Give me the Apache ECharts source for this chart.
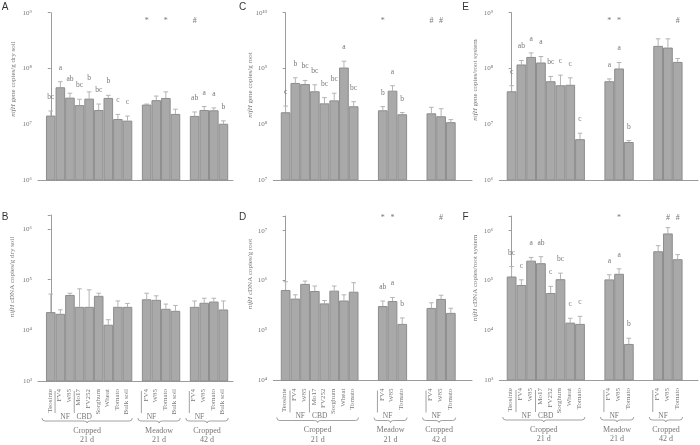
<!DOCTYPE html>
<html><head><meta charset="utf-8">
<script src="https://cdn.jsdelivr.net/npm/echarts@6/dist/echarts.min.js"></script>
<style>html,body{margin:0;padding:0;background:#fff}#c{width:700px;height:445px}</style>
</head><body><div id="c"></div>
<script>
// ---------------- data ----------------
const catsSoil = [["Teosinte","FV4","W85","Mo17","FV252","Sorghum","Wheat","Tomato","Bulk soil"],["FV4","W85","Tomato","Bulk soil"],["FV4","W85","Tomato","Bulk soil"]];
const catsRoot = [["Teosinte","FV4","W85","Mo17","FV252","Sorghum","Wheat","Tomato"],["FV4","W85","Tomato"],["FV4","W85","Tomato"]];
const groupStarts = [0, 10, 15];
const groupNames = ["Cropped\n21 d","Meadow\n21 d","Cropped\n42 d"];
// sub-groups: [group, first label index, second label index, name]
const subGroups = [[0,1,2,"NF"],[0,3,4,"CBD"],[1,0,1,"NF"],[2,0,1,"NF"]];

// A: nifH gene copies/g dry soil
const aVal = [[1.43e7,4.6e7,3.0e7,2.2e7,2.88e7,1.8e7,2.96e7,1.24e7,1.16e7],[2.25e7,2.7e7,2.96e7,1.53e7],[1.41e7,1.8e7,1.78e7,1.02e7]];
const aTop = [[1.73e7,5.8e7,3.6e7,2.8e7,3.8e7,2.3e7,3.3e7,1.5e7,1.4e7],[2.3e7,3.2e7,3.8e7,1.86e7],[1.66e7,2.07e7,1.96e7,1.15e7]];
const aLet = [["bc","a","ab","bc","b","bc","b","c","c"],["","","",""],["ab","a","a","b"]];
const aStar = [[10,"*"],[12,"*"],[15,"#"]];
// B: nifH cDNA copies/g dry soil
const bVal = [[2.29e4,2.12e4,5.0e4,2.91e4,2.91e4,4.8e4,1.29e4,2.91e4,2.91e4],[4.1e4,4.0e4,2.66e4,2.43e4],[2.91e4,3.5e4,3.7e4,2.58e4]];
const bTop = [[5.2e4,2.54e4,5.4e4,6.6e4,6.3e4,5.4e4,1.62e4,3.8e4,3.4e4],[5.4e4,4.8e4,3.3e4,3.1e4],[3.8e4,4.3e4,4.3e4,3.8e4]];
const bLet = [["","","","","","","","",""],["","","",""],["","","",""]];
const bStar = [];
// C: nifH gene copies/g root
const cVal = [[1.64e8,5.5e8,5.25e8,3.9e8,2.37e8,2.68e8,1.04e9,2.1e8],[1.78e8,4.0e8,1.51e8],[1.57e8,1.39e8,1.09e8]];
const cTop = [[2.12e8,6.8e8,6.1e8,5.1e8,3.0e8,3.6e8,1.35e9,2.54e8],[2.07e8,4.9e8,1.62e8],[2.01e8,1.9e8,1.21e8]];
const cLet = [["c","b","bc","bc","bc","bc","a","bc"],["b","a","b"],["","",""]];
const cStar = [[10,"*"],[15,"#"],[16,"#"]];
// D: nifH cDNA copies/g root
const dVal = [[6.5e5,4.37e5,8.6e5,6.2e5,3.5e5,6.3e5,4.0e5,6.0e5],[3.1e5,3.9e5,1.36e5],[2.84e5,4.3e5,2.26e5]];
const dTop = [[9.5e5,5.2e5,9.8e5,7.8e5,4.0e5,7.8e5,5.2e5,9.1e5],[3.9e5,4.6e5,1.79e5],[3.6e5,5.1e5,2.8e5]];
const dLet = [["","","","","","","",""],["ab","a","b"],["","",""]];
const dStar = [[10,"*"],[11,"*"],[16,"#"]];
// E: nifH gene copies/root system
const eVal = [[3.9e7,1.18e8,1.61e8,1.28e8,5.9e7,5.0e7,5.1e7,5.4e6],[5.9e7,1.0e8,4.8e6],[2.54e8,2.37e8,1.31e8]];
const eTop = [[4.9e7,1.39e8,1.9e8,1.64e8,7.2e7,7.6e7,6.8e7,6.9e6],[6.5e7,1.28e8,5.1e6],[3.4e8,3.4e8,1.51e8]];
const eLet = [["c","ab","a","a","bc","c","c","c"],["a","a","b"],["","",""]];
const eStar = [[10,"*"],[11,"*"],[17,"#"]];
// F: nifH cDNA copies/root system
const fVal = [[1.2e5,8.1e4,2.5e5,2.22e5,5.6e4,1.06e5,1.42e4,1.34e4],[1.05e5,1.36e5,5.3e3],[3.86e5,8.8e5,2.67e5]];
const fTop = [[1.9e5,1.03e5,2.9e5,3.0e5,7.6e4,1.4e5,1.74e4,1.9e4],[1.3e5,1.71e5,6.9e3],[5.0e5,1.15e6,3.3e5]];
const fLet = [["bc","c","a","ab","c","bc","c","c"],["a","a","b"],["","",""]];
const fStar = [[11,"*"],[16,"#"],[17,"#"]];

// ---------------- styling / layout ----------------
const SERIF = '"Liberation Serif","DejaVu Serif",serif';
const SANS = '"Liberation Sans","DejaVu Sans",sans-serif';
const AX = '#9c9c9c', TXT = '#787878', ERR = '#b4b4b4';
const BAR = '#a9a9a9', BARB = '#8d8d8d';

const panels = [
  {key:'A', grid:{left:38,top:12.7,width:195,height:167.3}, xmin:-1.33, xmax:19, ymin:1e6, ymax:1e9,
   vals:aVal, tops:aTop, lets:aLet, stars:aStar, starDy:8, cats:null, title:'gene copies/g dry soil', tx:13, ty:79, lx:5, ly:7},
  {key:'B', grid:{left:38,top:215,width:195,height:166}, xmin:-1.33, xmax:19, ymin:1e3, ymax:1.89e6,
   vals:bVal, tops:bTop, lets:bLet, stars:bStar, starDy:2, cats:catsSoil, title:'cDNA copies/g dry soil', tx:12, ty:277, lx:5, ly:217},
  {key:'C', grid:{left:273.3,top:12.7,width:198.7,height:167.3}, xmin:-1.27, xmax:19.18, ymin:1e7, ymax:1e10,
   vals:cVal, tops:cTop, lets:cLet, stars:cStar, starDy:8, cats:null, title:'gene copies/g root', tx:250.5, ty:85, lx:242.5, ly:7},
  {key:'D', grid:{left:273.3,top:216,width:198.7,height:164.5}, xmin:-1.27, xmax:19.18, ymin:1e4, ymax:1.97e7,
   vals:dVal, tops:dTop, lets:dLet, stars:dStar, starDy:2, cats:catsRoot, title:'cDNA copies/g root', tx:250, ty:274, lx:242.5, ly:217},
  {key:'E', grid:{left:499.3,top:12.7,width:198.7,height:167.3}, xmin:-1.26, xmax:19.08, ymin:1e6, ymax:1e9,
   vals:eVal, tops:eTop, lets:eLet, stars:eStar, starDy:8, cats:null, title:'gene copies/root system', tx:475, ty:80, lx:465.5, ly:7},
  {key:'F', grid:{left:499.3,top:216,width:198.7,height:164}, xmin:-1.26, xmax:19.08, ymin:1e3, ymax:1.97e6,
   vals:fVal, tops:fTop, lets:fLet, stars:fStar, starDy:2, cats:catsRoot, title:'cDNA copies/root system', tx:475, ty:278, lx:465.5, ly:217}
];

const SUP = {'0':'\u2070','1':'\u00b9','2':'\u00b2','3':'\u00b3','4':'\u2074','5':'\u2075','6':'\u2076','7':'\u2077','8':'\u2078','9':'\u2079'};
function tickFmt(v){
  const e = Math.log10(v), r = Math.round(e);
  if (Math.abs(e - r) > 1e-6) return '';
  return '10' + String(r).split('').map(c => SUP[c]).join('');
}

const grids = [], xAxes = [], yAxes = [], series = [], graphics = [];

panels.forEach((P, i) => {
  grids.push(Object.assign({containLabel:false}, P.grid));
  const unit = P.grid.width / (P.xmax - P.xmin);
  const bw = unit;
  xAxes.push({type:'value', gridIndex:i, min:P.xmin, max:P.xmax,
    axisLine:{show:true, onZero:false, lineStyle:{color:AX, width:1}},
    axisTick:{show:false}, axisLabel:{show:false}, splitLine:{show:false}});
  yAxes.push({type:'log', logBase:10, gridIndex:i, min:P.ymin, max:P.ymax,
    axisLine:{show:true, lineStyle:{color:AX, width:1}},
    axisTick:{show:true, inside:false, length:3, lineStyle:{color:AX}},
    axisLabel:{formatter:tickFmt, fontSize:7, fontFamily:SERIF, color:TXT, margin:6},
    splitLine:{show:false}, minorTick:{show:false}});

  // flatten bars
  const bars = [], errs = [], lets = [];
  P.vals.forEach((g, gi) => g.forEach((v, k) => {
    const x = groupStarts[gi] + k;
    bars.push([x, v]);
    errs.push([x, v, P.tops[gi][k]]);
    lets.push(P.lets[gi][k]);
  }));

  series.push({type:'bar', xAxisIndex:i, yAxisIndex:i, data:bars, barWidth:bw, silent:true,
    itemStyle:{color:BAR, borderColor:BARB, borderWidth:1}});

  series.push({type:'custom', xAxisIndex:i, yAxisIndex:i, clip:false, silent:true, data:errs,
    encode:{x:0, y:[1,2]},
    renderItem:(params, api) => {
      const x = api.value(0), v = api.value(1), t = api.value(2);
      const p0 = api.coord([x, v]), p1 = api.coord([x, t]);
      const ch = [
        {type:'line', shape:{x1:p0[0], y1:p0[1], x2:p1[0], y2:p1[1]}, style:{stroke:ERR, lineWidth:1}},
        {type:'line', shape:{x1:p1[0]-2.3, y1:p1[1], x2:p1[0]+2.3, y2:p1[1]}, style:{stroke:ERR, lineWidth:1}}
      ];
      const L = lets[params.dataIndex];
      if (L) ch.push({type:'text', x:p1[0], y:p1[1]-14,
        style:{text:L, fontFamily:SERIF, fontSize:7.5, fill:TXT, align:'center', verticalAlign:'middle'}});
      return {type:'group', children:ch};
    }});

  if (P.stars.length) {
    series.push({type:'custom', xAxisIndex:i, yAxisIndex:i, clip:false, silent:true,
      data:P.stars.map(s => [s[0], P.ymax]), encode:{x:0, y:1},
      renderItem:(params, api) => {
        const p = api.coord([api.value(0), api.value(1)]);
        return {type:'text', x:p[0], y:p[1]+P.starDy,
          style:{text:P.stars[params.dataIndex][1], fontFamily:SERIF, fontSize:8, fill:TXT, align:'center', verticalAlign:'middle'}};
      }});
  }

  if (P.cats) {
    const labs = [];
    P.cats.forEach((g, gi) => g.forEach((c, k) => labs.push([groupStarts[gi] + k, P.ymin, c])));
    series.push({type:'custom', xAxisIndex:i, yAxisIndex:i, clip:false, silent:true,
      data:labs.map(l => [l[0], l[1]]), encode:{x:0, y:1},
      renderItem:(params, api) => {
        const p = api.coord([api.value(0), api.value(1)]);
        return {type:'text', x:p[0]-1, y:p[1]+8, rotation:Math.PI/2,
          style:{text:labs[params.dataIndex][2], fontFamily:SERIF, fontSize:7, fill:TXT, align:'right', verticalAlign:'middle'}};
      }});
    // sub-group names (NF / CBD) with left rule
    const subs = subGroups.filter(s => s[2] < P.cats[s[0]].length);
    series.push({type:'custom', xAxisIndex:i, yAxisIndex:i, clip:false, silent:true,
      data:subs.map(s => [groupStarts[s[0]] + s[1], groupStarts[s[0]] + s[2], P.ymin]), encode:{x:[0,1], y:2},
      renderItem:(params, api) => {
        const pa = api.coord([api.value(0), api.value(2)]), pb = api.coord([api.value(1), api.value(2)]);
        const lx = pa[0] - bw/2 - 0.5;
        return {type:'group', children:[
          {type:'line', shape:{x1:lx, y1:pa[1]+10, x2:lx, y2:pa[1]+32}, style:{stroke:'#8a8a8a', lineWidth:0.8}},
          {type:'text', x:(pa[0]+pb[0])/2, y:pa[1]+36,
           style:{text:subs[params.dataIndex][3], fontFamily:SERIF, fontSize:7.5, fill:TXT, align:'center', verticalAlign:'middle'}}
        ]};
      }});
    // group braces and names
    series.push({type:'custom', xAxisIndex:i, yAxisIndex:i, clip:false, silent:true,
      data:P.cats.map((g, gi) => [groupStarts[gi], groupStarts[gi] + g.length - 1, P.ymin]), encode:{x:[0,1], y:2},
      renderItem:(params, api) => {
        const pa = api.coord([api.value(0), api.value(2)]), pb = api.coord([api.value(1), api.value(2)]);
        const x0 = pa[0] - bw/2 - 4, x1 = pb[0] + bw/2, y = pa[1] + 40, m = (x0 + x1)/2;
        const d = `M${x0},${y-3} Q${x0},${y} ${x0+3},${y} L${m-3},${y} Q${m},${y} ${m},${y+2} Q${m},${y} ${m+3},${y} L${x1-3},${y} Q${x1},${y} ${x1},${y-3}`;
        return {type:'group', children:[
          {type:'path', shape:{pathData:d}, style:{stroke:'#8a8a8a', lineWidth:0.8, fill:null}},
          {type:'text', x:m, y:y+5,
           style:{text:groupNames[params.dataIndex], fontFamily:SERIF, fontSize:8, lineHeight:9.5, fill:TXT, align:'center', verticalAlign:'top'}}
        ]};
      }});
  }

  graphics.push({type:'text', x:P.lx, y:P.ly, style:{text:P.key, fontFamily:SANS, fontSize:10, fill:'#333', align:'center', verticalAlign:'middle'}});
  graphics.push({type:'text', x:P.tx, y:P.ty, rotation:Math.PI/2,
    style:{text:'{i|nifH} {n|' + P.title + '}', align:'center', verticalAlign:'middle',
      fontFamily:SERIF, fontSize:7, fill:TXT,
      rich:{i:{fontFamily:SERIF, fontSize:7, fontStyle:'italic', fill:TXT}, n:{fontFamily:SERIF, fontSize:7, fill:TXT}}}});
});

const chart = echarts.init(document.getElementById('c'), null, {renderer:'canvas'});
chart.setOption({
  animation:false, backgroundColor:'#fff',
  grid:grids, xAxis:xAxes, yAxis:yAxes, series:series, graphic:graphics
});
</script></body></html>
